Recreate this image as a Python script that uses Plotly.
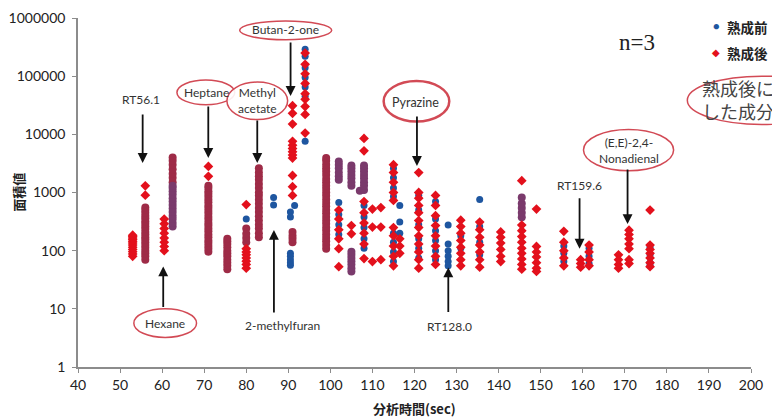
import plotly.graph_objects as go

# ---------------- data (retention time sec, peak area) ----------------
# 熟成後 (after aging) – red diamonds
after_rt = [53, 56, 60.5, 71, 80, 91, 94, 102, 105, 108, 110, 112, 115, 116.5,
            121, 125, 131, 135.5, 140.5, 145.5, 149, 155.5, 159.5, 161.5, 168.5, 171, 176]
after_area = [
    [80, 88, 96, 105, 115, 125, 135, 145, 155, 165, 175, 185],
    [900, 1300],
    [100, 118, 140, 165, 200, 240, 290, 350],
    [1900, 2800],
    [620, 50, 58, 66, 75, 85, 95, 108],
    [31000, 23000, 15000, 3900, 4400, 5000, 5700, 6500, 7600, 1960, 1260, 890],
    [250000, 160000, 110000, 75000, 50000, 40000, 30000, 22000, 10500],
    [108, 53, 500, 350, 230, 160],
    [270, 195],
    [8500, 5200, 73, 700, 450, 300, 200, 130],
    [520, 255, 65],
    [550, 255, 70],
    [3000, 2200, 1500, 1000, 730, 250, 180, 120, 80, 55],
    [160, 120, 90],
    [2200, 1000, 800, 600, 450, 330, 250, 180, 130, 95, 70, 50],
    [890, 600, 400, 270, 180, 120, 80, 58],
    [335, 260, 200, 150, 115, 90, 70, 55],
    [310, 230, 170, 125, 95, 70, 52],
    [210, 170, 135, 105, 80, 65],
    [1600, 275, 220, 175, 140, 110, 90, 72, 58, 48],
    [520, 118, 95, 78, 62, 50, 44],
    [215, 140, 100, 75, 55],
    [70, 60, 52],
    [125, 95, 70, 55],
    [85, 70, 58, 50],
    [225, 190, 160, 130, 108, 70, 60],
    [500, 125, 105, 90, 75, 62, 53],
]

# 熟成前 (before aging) – blue circles
before_rt = [80, 86.5, 90.5, 91.5, 94, 102, 108, 115, 116.5, 121, 125, 128, 131,
             135.5, 155.5, 161.5, 176]
before_area = [
    [350],
    [820, 610],
    [460, 380, 90, 80, 70, 62, 56],
    [600],
    [290000, 220000, 140000, 95000, 65000, 45000, 7600],
    [670, 420, 280, 190],
    [600, 380, 250, 160, 110],
    [2600, 1800, 1200, 850, 200, 140, 95, 65],
    [600, 310, 200],
    [900, 500, 280, 160, 110, 75],
    [700, 350, 220, 150, 100, 70],
    [275, 130, 100, 80, 65, 55],
    [180, 110],
    [760, 260, 140, 85],
    [120, 90, 65],
    [110, 80, 60],
    [115, 85, 62, 55],
]

# overlapping replicate stacks (dark red)
maroon_rt = [56, 62.5, 71, 75.5, 80, 83, 91, 99]
maroon_area = [
    [70, 80, 90, 100, 112, 125, 140, 155, 170, 190, 210, 235, 260, 290, 320, 360, 400, 450, 500, 550],
    [1500, 1800, 2100, 2500, 3000, 3500, 4000],
    [96, 108, 120, 135, 150, 170, 190, 215, 240, 270, 300, 340, 380, 430, 480, 540,
     600, 680, 760, 850, 950, 1050, 1200, 1300],
    [48, 55, 62, 70, 80, 90, 100, 115, 130, 145, 160],
    [140, 165, 195, 240],
    [170, 200, 240, 280, 330, 390, 460, 540, 640, 750, 880, 1000, 1200, 1400, 1650, 1900, 2200, 2600],
    [210, 180, 160, 140],
    [108, 125, 145, 165, 190, 220, 250, 290, 330, 380, 440, 500, 580, 660, 760, 880,
     1000, 1150, 1300, 1500, 1700, 2000, 2300, 2600, 3000, 3500, 3900],
]

# overlapping replicate stacks (purple)
purple_rt = [62.5, 102, 105, 107, 108, 145.5]
purple_area = [
    [260, 300, 350, 400, 460, 530, 610, 700, 800, 920, 1050, 1200, 1300],
    [1650, 1900, 2200, 2600, 3000, 3400],
    [1300, 1500, 1750, 2000, 2300, 2600, 2900, 44, 50, 58, 66, 75, 85, 96],
    [1070],
    [1100, 1300, 1500, 1750, 2000, 2300, 2600, 2900],
    [375, 450, 540, 650, 820],
]

x_ticks = [40, 50, 60, 70, 80, 90, 100, 110, 120, 130, 140, 150, 160, 170, 180, 190, 200]
y_tickvals = [1, 10, 100, 1000, 10000, 100000, 1000000]
y_ticktext = ["1", "10", "100", "1000", "10000", "100000", "1000000"]


def flatten(rts, areas):
    xs, ys = [], []
    for rt, vals in zip(rts, areas):
        for v in vals:
            xs.append(rt)
            ys.append(v)
    return xs, ys


# ---------------- figure ----------------
W, H = 772, 419
ML, MR, MT, MB = 76, 9, 13, 52
PW, PH = W - ML - MR, H - MT - MB


def P(px, py):
    """pixel position -> paper coordinates (layout helper)"""
    return (px - ML) / PW, (H - MB - py) / PH


RED = "#E3101C"
BLUE = "#1E56A0"
MAROON = "#9E2B47"
PURPLE = "#7A3A6C"

fig = go.Figure()

mx, my = flatten(maroon_rt, maroon_area)
fig.add_trace(go.Scatter(x=mx, y=my, mode="markers", showlegend=False,
                         marker=dict(symbol="circle", size=8, color=MAROON)))
px_, py_ = flatten(purple_rt, purple_area)
fig.add_trace(go.Scatter(x=px_, y=py_, mode="markers", showlegend=False,
                         marker=dict(symbol="circle", size=8, color=PURPLE)))
bx, by = flatten(before_rt, before_area)
fig.add_trace(go.Scatter(x=bx, y=by, mode="markers", name="熟成前", showlegend=False,
                         marker=dict(symbol="circle", size=7, color=BLUE)))
ax_, ay_ = flatten(after_rt, after_area)
fig.add_trace(go.Scatter(x=ax_, y=ay_, mode="markers", name="熟成後", showlegend=False,
                         marker=dict(symbol="diamond", size=7.5, color=RED)))

annotations = []
shapes = []
TXT = dict(family="Lato, Liberation Sans, sans-serif", size=12, color="#333333")


def text(px, py, s, size=12, **kw):
    x, y = P(px, py)
    f = dict(TXT)
    f["size"] = size
    f.update(kw.pop("font", {}))
    kw.setdefault("xanchor", "center")
    kw.setdefault("yanchor", "middle")
    annotations.append(dict(x=x, y=y, xref="paper", yref="paper", text=s,
                            showarrow=False, font=f, **kw))


def arrow(px_tip, py_tip, py_tail):
    x, y = P(px_tip, py_tip)
    annotations.append(dict(x=x, y=y, xref="paper", yref="paper", text="",
                            showarrow=True, ax=0, ay=py_tail - py_tip,
                            arrowhead=2, arrowsize=1.1, arrowwidth=1.8,
                            arrowcolor="#111111"))


def ellipse(x0, y0, x1, y1, w=1.5):
    a, b = P(x0, y1)
    c, d = P(x1, y0)
    shapes.append(dict(type="circle", xref="paper", yref="paper", x0=a, y0=b,
                       x1=c, y1=d, line=dict(color="#D24A55", width=w),
                       fillcolor="rgba(255,255,255,0.9)", layer="below"))


# labels with arrows
text(140, 96, "RT56.1")
arrow(142, 160, 110)

ellipse(177, 76, 236, 101)
text(207, 89, "Heptane")
arrow(209, 155, 102)

ellipse(228, 78, 290, 116)
text(259, 97, "Methyl<br>acetate")
arrow(259, 160, 116)

ellipse(241, 16, 335, 35)
text(288, 25, "Butan-2-one")
arrow(293, 92, 37)

ellipse(388, 77, 455, 118, w=2.5)
text(421, 99, "Pyrazine", size=12.5)
arrow(422, 163, 112)

ellipse(592, 126, 684, 168)
text(638, 147, "(E,E)-2,4-<br>Nonadienal")
arrow(637, 222, 166)

text(588, 183, "RT159.6")
arrow(588, 247, 195)

ellipse(133, 308, 197, 337)
text(165, 323, "Hexane")
arrow(163, 265, 307)

text(285, 325, "2-methylfuran")
arrow(276, 228, 312)

text(455, 326, "RT128.0")
arrow(454, 266, 312)

# n=3 note
text(647, 38, "n=3", size=23, font=dict(family="Liberation Serif, serif", color="#222222"))

# manual legend (cropped at the right edge like the original)
text(728, 21, "●", size=11, font=dict(color=BLUE))
text(736, 22, "<b>熟成前</b>", size=13.5, xanchor="left",
     font=dict(family="Noto Sans CJK JP", color="#222222"))
text(727, 47, "◆", size=10, font=dict(color=RED))
text(736, 48, "<b>熟成後</b>", size=13.5, xanchor="left",
     font=dict(family="Noto Sans CJK JP", color="#222222"))

# highlighted note
ellipse(698, 72, 850, 121)
text(711, 96, "熟成後に増加<br>した成分", size=18, xanchor="left", align="left",
     font=dict(family="Noto Sans CJK JP", color="#444444"))

# axis titles
text(15, 190, "<b>面積値</b>", size=13, textangle=-90,
     font=dict(family="Noto Sans CJK JP", color="#222222"))
text(420, 409, "<b>分析時間(sec)</b>", size=13,
     font=dict(family="Noto Sans CJK JP", color="#222222"))

fig.update_layout(
    width=W, height=H, autosize=False,
    margin=dict(l=ML, r=MR, t=MT, b=MB, pad=0),
    paper_bgcolor="white", plot_bgcolor="white",
    annotations=annotations, shapes=shapes,
    font=dict(family="Lato, Liberation Sans, sans-serif", size=13, color="#222222"),
)
fig.update_xaxes(range=[40, 200], tickvals=x_ticks, ticktext=[str(t) for t in x_ticks],
                 showgrid=False, zeroline=False, showline=True, linecolor="#8C8C8C",
                 linewidth=1.5, ticks="outside", ticklen=4, tickcolor="#8C8C8C",
                 tickfont=dict(size=14), ticklabeloverflow="allow")
fig.update_yaxes(type="log", range=[0, 6], tickvals=y_tickvals, ticktext=y_ticktext,
                 showgrid=False, zeroline=False, showline=True, linecolor="#8C8C8C",
                 linewidth=1.5, ticks="outside", ticklen=4, tickcolor="#8C8C8C",
                 tickfont=dict(size=14), ticklabelstandoff=4)

fig.write_html("out.html", config={"displayModeBar": False, "responsive": False},
               default_width=W, default_height=H,
               post_script="document.body.style.margin='0';"
                           "document.documentElement.style.overflow='hidden';"
                           "document.body.style.overflow='hidden';")
